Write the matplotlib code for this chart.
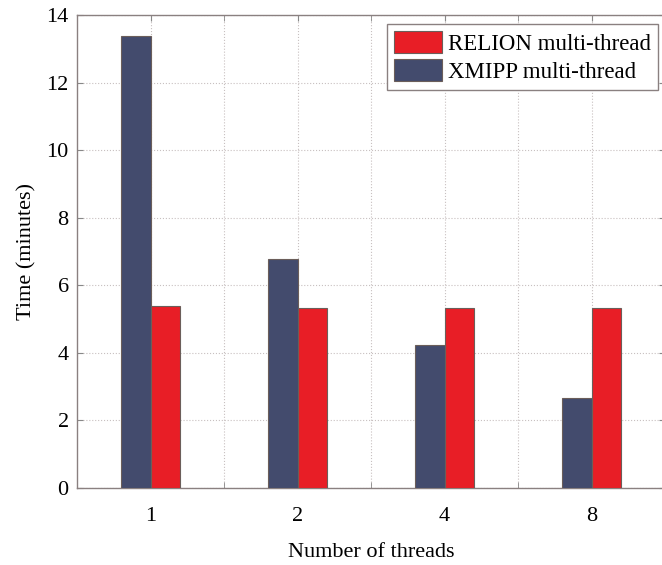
import numpy as np
import matplotlib
matplotlib.use("Agg")
import matplotlib.pyplot as plt

plt.rcParams.update({"font.family": ["Liberation Serif", "DejaVu Serif"], "font.size": 16})

threads = ["1", "2", "4", "8"]
xmipp = [13.37, 6.77, 4.23, 2.65]
relion = [5.38, 5.33, 5.32, 5.32]

NAVY, RED, EDGE = "#434b6d", "#e81e26", "#6b5e5a"

fig = plt.figure(figsize=(6.62, 5.65), dpi=100)
ax = fig.add_axes([77/662, 77/565, 588/662, 473/565])
x = np.arange(1, len(threads) + 1)
w = 0.2
ax.bar(x + w/2, relion, w, color=RED, edgecolor=EDGE, lw=0.8, label="RELION multi-thread", zorder=3)
ax.bar(x - w/2, xmipp, w, color=NAVY, edgecolor=EDGE, lw=0.8, label="XMIPP multi-thread", zorder=3)

ax.set_xlim(0.5, 4.5)
ax.set_ylim(0, 14)
ax.set_xticks(x)
ax.set_xticklabels(threads)
ax.set_xticks(np.arange(1.5, 4.5, 1), minor=True)
ax.set_yticks(np.arange(0, 15, 2))
ax.tick_params(which="both", direction="in", top=True, right=True, length=4, color="#888888")
ax.tick_params(axis="x", pad=14)
ax.tick_params(axis="y", pad=6)
ax.grid(True, which="both", ls=":", color="#c8c0c0", lw=0.8, zorder=0)
for s in ax.spines.values():
    s.set_color("#8a8080"); s.set_linewidth(1.0)
ax.set_xlabel("Number of threads", labelpad=12)
ax.set_ylabel("Time (minutes)", labelpad=7)

leg = ax.legend(loc="upper right", bbox_to_anchor=(0.988, 0.981), fancybox=False, framealpha=1,
                edgecolor="#8a8080", handlelength=2.1, handleheight=1.1, handletextpad=0.25,
                labelspacing=0.2, borderpad=0.3, borderaxespad=0, fontsize=16.5)
leg.get_frame().set_linewidth(1.0)

fig.savefig("out.png", dpi=100)
